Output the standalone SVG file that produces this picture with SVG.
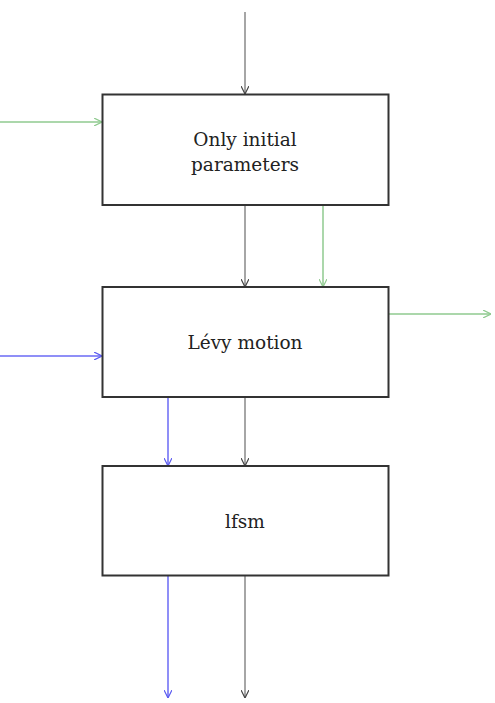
<svg xmlns="http://www.w3.org/2000/svg" width="495" height="703" viewBox="0 0 495 703">
<style>
.box{fill:#fff;stroke:#333;stroke-width:2}
.t{font-family:"DejaVu Serif",serif;font-size:18.5px;fill:#222;text-anchor:middle}
.g{stroke:#888;stroke-width:1.5;fill:none}
.gr{stroke:#8fca8f;stroke-width:1.5;fill:none}
.b{stroke:#6a6af5;stroke-width:1.5;fill:none}
</style>
<defs>
<marker id="ag" viewBox="0 0 10 10" refX="10" refY="5" markerWidth="8" markerHeight="8" markerUnits="userSpaceOnUse" orient="auto"><path d="M0,0 L10,5 L0,10" fill="none" stroke="#444" stroke-width="1.5"/></marker>
<marker id="agr" viewBox="0 0 10 10" refX="10" refY="5" markerWidth="8" markerHeight="8" markerUnits="userSpaceOnUse" orient="auto"><path d="M0,0 L10,5 L0,10" fill="none" stroke="#8fca8f" stroke-width="1.5"/></marker>
<marker id="ab" viewBox="0 0 10 10" refX="10" refY="5" markerWidth="8" markerHeight="8" markerUnits="userSpaceOnUse" orient="auto"><path d="M0,0 L10,5 L0,10" fill="none" stroke="#5a5af0" stroke-width="1.5"/></marker>
</defs>
<g id="connectors">
<line class="g" x1="245" y1="12" x2="245" y2="94" marker-end="url(#ag)"/>
<line class="gr" x1="0" y1="122" x2="102" y2="122" marker-end="url(#agr)"/>
<line class="g" x1="245" y1="205" x2="245" y2="287" marker-end="url(#ag)"/>
<line class="gr" x1="323" y1="205" x2="323" y2="287" marker-end="url(#agr)"/>
<line class="gr" x1="388" y1="314" x2="491" y2="314" marker-end="url(#agr)"/>
<line class="b" x1="0" y1="356" x2="102" y2="356" marker-end="url(#ab)"/>
<line class="b" x1="168" y1="397" x2="168" y2="466" marker-end="url(#ab)"/>
<line class="g" x1="245" y1="397" x2="245" y2="466" marker-end="url(#ag)"/>
<line class="b" x1="168" y1="576" x2="168" y2="698" marker-end="url(#ab)"/>
<line class="g" x1="245" y1="576" x2="245" y2="698" marker-end="url(#ag)"/>
</g>
<g id="node1">
<rect class="box" x="102.5" y="94.5" width="286" height="110.5"/>
<text class="t" x="245" y="146">Only initial</text>
<text class="t" x="245" y="171">parameters</text>
</g>
<g id="node2">
<rect class="box" x="102.5" y="287" width="286" height="110"/>
<text class="t" x="245" y="349">Lévy motion</text>
</g>
<g id="node3">
<rect class="box" x="102.5" y="466" width="286" height="109.5"/>
<text class="t" x="245" y="528">lfsm</text>
</g>
</svg>
